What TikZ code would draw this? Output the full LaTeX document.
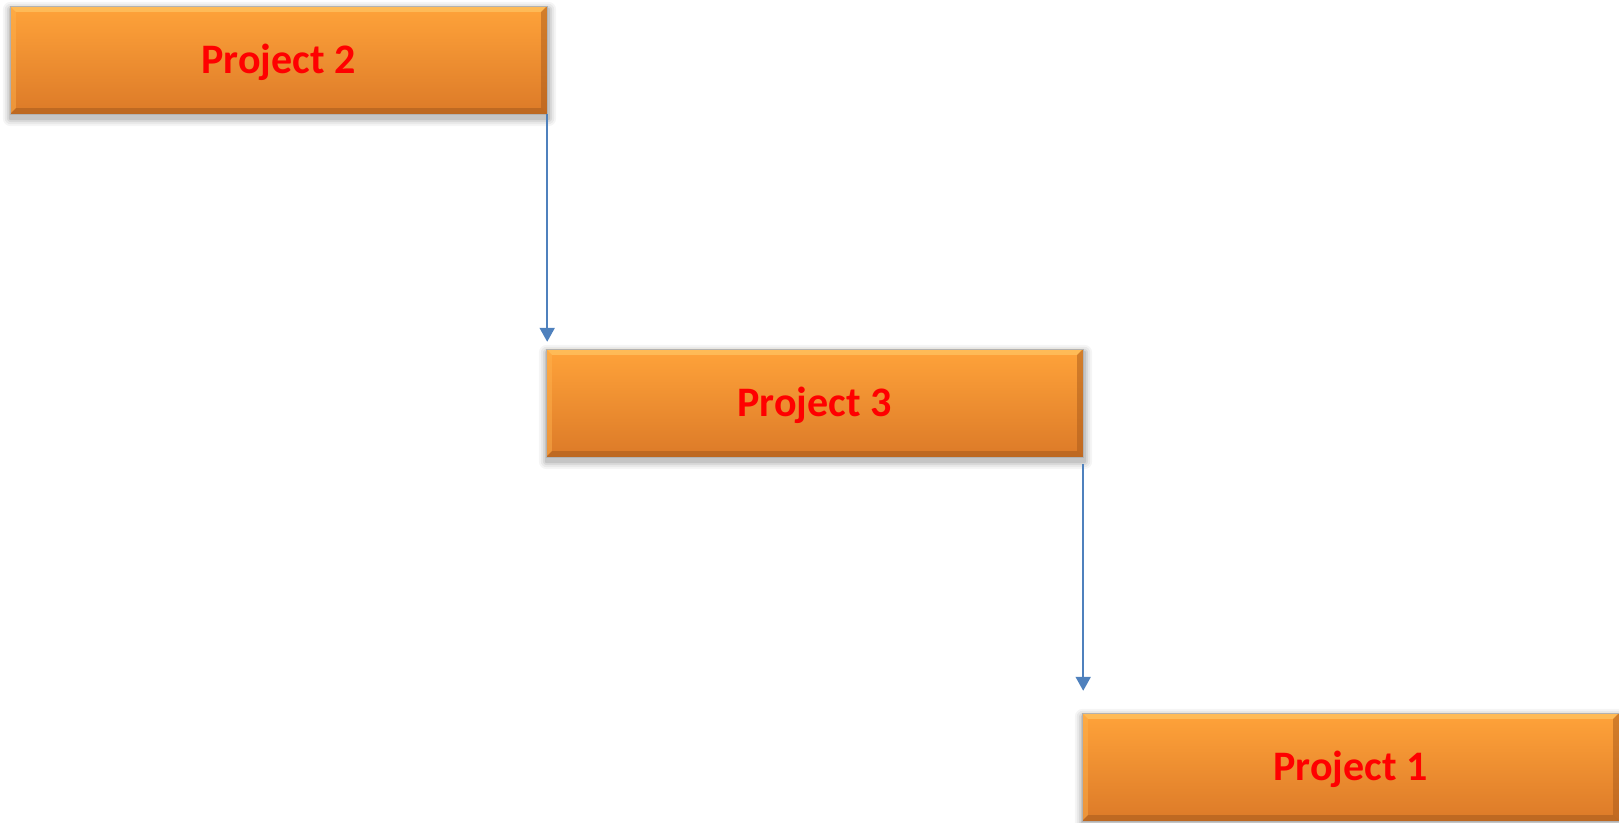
\documentclass[tikz,border=0pt]{standalone}
\usepackage{fontspec}
\setmainfont{Carlito}
\usetikzlibrary{arrows.meta,calc,backgrounds}

\definecolor{boxtop}{HTML}{FFA33A}
\definecolor{boxmid}{HTML}{F58F30}
\definecolor{boxbot}{HTML}{DC7A28}
\definecolor{bevtopc}{HTML}{FFD070}
\definecolor{bevleftc}{HTML}{FFB450}
\definecolor{bevrightc}{HTML}{A85A1C}
\definecolor{bevbotc}{HTML}{A0581C}
\definecolor{connblue}{HTML}{4F81BD}

\tikzset{
  projbox/.style={rectangle, minimum width=537pt, minimum height=108pt, inner sep=0pt,
    top color=boxtop, middle color=boxmid, bottom color=boxbot,
    text height=35pt, text depth=9pt,
    font=\fontsize{42}{50}\selectfont\bfseries, text=red},
  conn/.style={draw=connblue, line width=2pt, -{Triangle[width=15pt,length=14pt]}},
}

% bevelled rim and soft shadow for a project box
\newcommand\boxbevel[1]{%
  \begin{pgfonlayer}{background}
    \foreach \k/\o in {8/0.04,6/0.05,4/0.07,2/0.09}{
      \fill[black, opacity=\o, rounded corners=\k pt]
        ($(#1.north west)+(1-\k,4-\k)$) rectangle ($(#1.south east)+(1+\k,4+\k)$);
    }
  \end{pgfonlayer}
  \fill[bevtopc, opacity=0.55] (#1.north west) -- (#1.north east) -- ($(#1.north east)+(-6,6)$) -- ($(#1.north west)+(6,6)$) -- cycle;
  \fill[bevleftc, opacity=0.45] (#1.north west) -- ($(#1.north west)+(6,6)$) -- ($(#1.south west)+(6,-6)$) -- (#1.south west) -- cycle;
  \fill[bevrightc, opacity=0.5] (#1.north east) -- ($(#1.north east)+(-6,6)$) -- ($(#1.south east)+(-6,-6)$) -- (#1.south east) -- cycle;
  \fill[bevbotc, opacity=0.5] (#1.south west) -- ($(#1.south west)+(6,-6)$) -- ($(#1.south east)+(-6,-6)$) -- (#1.south east) -- cycle;
  \draw[black!30, line width=0.5pt] (#1.north west) rectangle (#1.south east);
}

\begin{document}
\begin{tikzpicture}[x=1pt, y=-1pt]
  \useasboundingbox (0,0) rectangle (1619,822);

  \node[projbox] (p2) at (278.5,60) {Project 2};
  \node[projbox] (p3) at (814.5,403) {Project 3};
  \node[projbox] (p1) at (1350.5,767) {Project 1};

  \boxbevel{p2}
  \boxbevel{p3}
  \boxbevel{p1}

  \draw[conn, shorten >=7pt] (p2.south east) -- (p3.north east -| p2.south east);
  \draw[conn, shorten <=7pt, shorten >=22pt] (p3.south east) -- (p1.north west -| p3.south east);
\end{tikzpicture}
\end{document}
